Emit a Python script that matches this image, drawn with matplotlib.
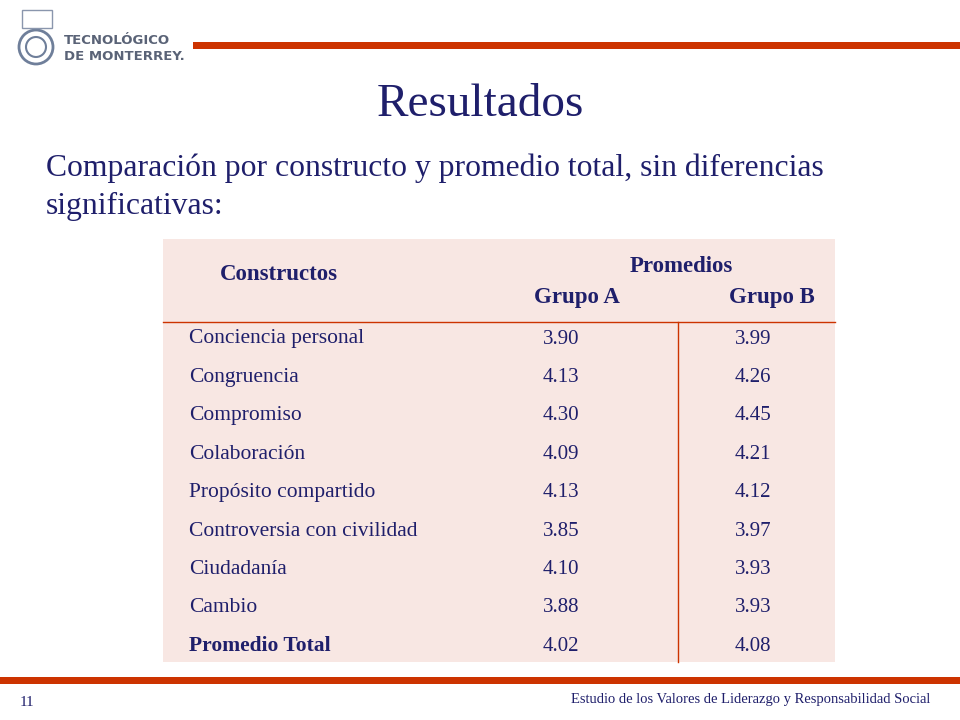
import matplotlib.pyplot as plt
import matplotlib.patches as patches

constructos = ["Conciencia personal", "Congruencia", "Compromiso", "Colaboración",
               "Propósito compartido", "Controversia con civilidad", "Ciudadanía",
               "Cambio", "Promedio Total"]
grupo_a = [3.90, 4.13, 4.30, 4.09, 4.13, 3.85, 4.10, 3.88, 4.02]
grupo_b = [3.99, 4.26, 4.45, 4.21, 4.12, 3.97, 3.93, 3.93, 4.08]

navy = "#1f1f6b"
red = "#cc3300"
serif = "Liberation Serif"

fig = plt.figure(figsize=(9.6, 7.2), dpi=100)
ax = fig.add_axes([0, 0, 1, 1])
ax.set_xlim(0, 960)
ax.set_ylim(720, 0)
ax.axis("off")

# top / bottom bars
ax.add_patch(patches.Rectangle((193, 42), 767, 7, color=red, lw=0))
ax.add_patch(patches.Rectangle((0, 677), 960, 7, color=red, lw=0))

# logo
ax.add_patch(patches.Circle((36, 47), 17, fill=False, ec="#6f7f9a", lw=2))
ax.add_patch(patches.Circle((36, 47), 10, fill=False, ec="#6f7f9a", lw=1.5))
ax.add_patch(patches.Rectangle((22, 10), 30, 18, fill=False, ec="#8a96ad", lw=1))
ax.text(64, 40, "TECNOLÓGICO", fontsize=9.5, fontweight="bold", color="#5a6377",
        family="DejaVu Sans", va="center")
ax.text(64, 56, "DE MONTERREY.", fontsize=9.5, fontweight="bold", color="#5a6377",
        family="DejaVu Sans", va="center")

ax.text(480, 105, "Resultados", fontsize=34, color=navy, family=serif, ha="center", va="center")
ax.text(46, 168, "Comparación por constructo y promedio total, sin diferencias",
        fontsize=22.8, color=navy, family=serif, va="center")
ax.text(46, 206, "significativas:", fontsize=22.8, color=navy, family=serif, va="center")

# table
ax.add_patch(patches.Rectangle((163, 239), 672, 423, color="#f8e7e3", lw=0))
ax.plot([163, 835], [322, 322], color=red, lw=1)
ax.plot([678, 678], [322, 662], color=red, lw=1)
hdr = dict(fontsize=16.5, fontweight="bold", color=navy, family=serif, ha="center", va="center")
ax.text(279, 275, "Constructos", **hdr)
ax.text(681, 267, "Promedios", **hdr)
ax.text(577, 298, "Grupo A", **hdr)
ax.text(772, 298, "Grupo B", **hdr)

y0, step = 339, 38.4
for i, (name, a, b) in enumerate(zip(constructos, grupo_a, grupo_b)):
    y = y0 + i * step
    bold = "bold" if i == len(constructos) - 1 else "normal"
    ax.text(189, y, name, fontsize=15.5, fontweight=bold, color=navy, family=serif, va="center")
    ax.text(543, y, f"{a:.2f}", fontsize=15, color=navy, family=serif, va="center")
    ax.text(735, y, f"{b:.2f}", fontsize=15, color=navy, family=serif, va="center")

ax.text(20, 702, "11", fontsize=11, color=navy, family=serif, va="center")
ax.text(930, 700, "Estudio de los Valores de Liderazgo y Responsabilidad Social",
        fontsize=10.5, color=navy, family=serif, ha="right", va="center")

fig.savefig("out.png", dpi=100)
